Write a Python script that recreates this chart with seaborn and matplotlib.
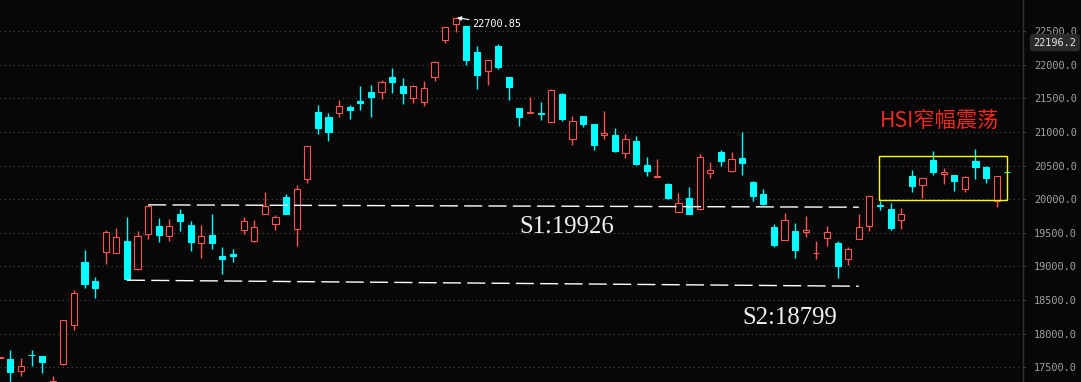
import numpy as np
import pandas as pd
import matplotlib
matplotlib.use('Agg')
import matplotlib.pyplot as plt
import seaborn as sns
from matplotlib.patches import Rectangle
from matplotlib.ticker import MultipleLocator, FormatStrFormatter

# HSI daily candles (day -1 is the one cut off at the left edge)
opens = [17645, 17623, 17449, 17687, 17667, 17200, 17553, 18133, 19065, 18783,
         19218, 19203, 19377, 18956, 19477, 19596, 19447, 19779, 19615, 19343,
         19467, 19154, 19188, 19536, 19373, 19783, 19635, 20032, 19560, 20304,
         21296, 21221, 21285, 21370, 21464, 21593, 21597, 21816, 21682, 21508,
         21449, 21812, 22371, 22609, 22574, 22188, 21910, 22277, 21816, 21355,
         21285, 21281, 21142, 21563, 20898, 21236, 21117, 20953, 20953, 20681,
         20864, 20507, 20335, 20225, 19813, 20017, 19849, 20384, 20701, 20423,
         20612, 20250, 20076, 19585, 19397, 19526, 19516, 19195, 19427, 19347,
         19114, 19412, 19605, 19912, 19849, 19685, 20344, 20205, 20582, 20369,
         20359, 20146, 20567, 20478, 19968, 20405]
closes = [17650, 17429, 17519, 17677, 17578, 17295, 18203, 18604, 18738, 18683,
          19507, 19432, 18812, 19447, 19893, 19471, 19596, 19679, 19367, 19447,
          19352, 19105, 19159, 19670, 19581, 19893, 19734, 19783, 20146, 20785,
          21058, 20998, 21380, 21325, 21429, 21519, 21742, 21742, 21583, 21678,
          21648, 22035, 22555, 22689, 22069, 21850, 22064, 21969, 21672, 21226,
          21296, 21270, 21618, 21191, 21157, 21122, 20809, 20983, 20720, 20894,
          20527, 20418, 20339, 20017, 19938, 19783, 20622, 20429, 20571, 20592,
          20542, 20051, 19927, 19318, 19685, 19248, 19541, 19199, 19507, 19010,
          19254, 19581, 20042, 19905, 19575, 19774, 20200, 20309, 20408, 20403,
          20274, 20324, 20482, 20319, 20339, 20400]
highs = [17655, 17757, 17637, 17757, 17667, 17370, 18210, 18649, 19243, 18842,
         19541, 19571, 19734, 19526, 19913, 19719, 19704, 19853, 19670, 19615,
         19779, 19288, 19258, 19734, 19690, 20106, 19764, 20076, 20210, 20790,
         21400, 21281, 21474, 21400, 21682, 21697, 21771, 21950, 21801, 21697,
         21757, 22054, 22560, 22700.85, 22580, 22277, 22070, 22307, 21820, 21360,
         21519, 21444, 21638, 21578, 21236, 21240, 21120, 21310, 21058, 20968,
         20939, 20626, 20597, 20244, 20091, 20180, 20671, 20552, 20730, 20701,
         20998, 20270, 20151, 19630, 19794, 19645, 19749, 19382, 19600, 19377,
         19288, 19783, 20045, 19972, 19942, 19868, 20433, 20312, 20716, 20468,
         20360, 20344, 20745, 20497, 20340, 20405]
lows = [17640, 17236, 17374, 17523, 17419, 17170, 17533, 18058, 18683, 18534,
        19040, 19200, 18797, 18950, 19412, 19367, 19382, 19530, 19233, 19129,
        19263, 18891, 19070, 19486, 19370, 19780, 19541, 19780, 19308, 20244,
        20973, 20869, 21226, 21191, 21325, 21221, 21484, 21583, 21414, 21434,
        21385, 21761, 22326, 22485, 22000, 21642, 21701, 21939, 21469, 21092,
        21276, 21181, 21140, 21166, 20805, 21072, 20730, 20898, 20701, 20616,
        20512, 20348, 20335, 20006, 19810, 19780, 19845, 20319, 20497, 20408,
        20363, 19977, 19913, 19288, 19395, 19125, 19441, 19110, 19308, 18832,
        19025, 19410, 19530, 19838, 19541, 19560, 20110, 20021, 20363, 20229,
        20125, 20110, 20304, 20244, 19887, 20400]
days = list(range(-1, 95))

# support lines (day, level)
s1_days = [13, 80]
s1_levels = [19915, 19880]
s2_days = [11, 80]
s2_levels = [18795, 18705]
s1_label = 'S1:19926'
s2_label = 'S2:18799'

peak_day = 42
peak_value = 22700.85
last_price = 22196.2

# consolidation box
box_days = [81.95, 94.0]
box_levels = [19987, 20637]

bg = '#070707'
red = '#ff5454'
cyan = '#00ffff'

sns.set_theme(style='dark', rc={'axes.facecolor': bg, 'figure.facecolor': bg,
                                'axes.grid': False})
plt.rcParams['font.family'] = ['Noto Sans CJK SC', 'DejaVu Sans']

df = pd.DataFrame({'day': days, 'open': opens, 'high': highs,
                   'low': lows, 'close': closes})
up = df['close'] >= df['open']

fig = plt.figure(figsize=(10.81, 3.82), dpi=100)
ax = fig.add_axes([0, 0, 1023 / 1081, 1])

# wicks then bodies (hollow red covers wick)
ax.vlines(df['day'], df['low'], df['high'],
          colors=np.where(up, red, cyan), lw=1.0, zorder=2)
body_h = np.maximum((df['close'] - df['open']).abs(), 1)
body_b = np.minimum(df['open'], df['close'])
ax.bar(df['day'], body_h, bottom=body_b, width=0.58,
       color=np.where(up, bg, cyan), edgecolor=np.where(up, red, cyan),
       linewidth=0.8, zorder=3)

# support lines
sns.lineplot(x=s1_days, y=s1_levels, ax=ax, color='white', lw=1.0,
             linestyle=(0, (13, 4.5)), zorder=4)
sns.lineplot(x=s2_days, y=s2_levels, ax=ax, color='white', lw=1.0,
             linestyle=(0, (13, 4.5)), zorder=4)

ax.text(52.5, 19590, s1_label, color='#f0f0f0', fontsize=17.8,
        family='Liberation Serif', ha='center', va='center')
ax.text(73.5, 18228, s2_label, color='#f0f0f0', fontsize=17.8,
        family='Liberation Serif', ha='center', va='center')

ax.add_patch(Rectangle((box_days[0], box_levels[0]), box_days[1] - box_days[0],
                       box_levels[1] - box_levels[0], fill=False,
                       edgecolor='#ffff00', lw=1.0, zorder=5))
ax.text(box_days[0], 21166, 'HSI窄幅震荡', color='#f02a1e', fontsize=15.3,
        ha='left', va='center')

ax.annotate(f'{peak_value:.2f}', xy=(peak_day, peak_value),
            xytext=(11.8, -4.7), textcoords='offset points',
            color='white', fontsize=7.4, family='DejaVu Sans Mono',
            ha='left', va='center',
            arrowprops=dict(arrowstyle='-|>', color='white', lw=0.8,
                            mutation_scale=6, shrinkA=0, shrinkB=1))

ax.set_xlim(-0.97, 95.48)
ax.set_ylim(17281, 22961)
ax.set_xticks([])
ax.yaxis.tick_right()
ax.yaxis.set_major_locator(MultipleLocator(500))
ax.yaxis.set_major_formatter(FormatStrFormatter('%.1f'))
ax.tick_params(axis='y', colors='#3a3a3a', labelcolor='#a0a0a0',
               labelsize=7.4, length=2.5, width=0.8, pad=5.5)
for lbl in ax.get_yticklabels():
    lbl.set_family('DejaVu Sans Mono')
ax.yaxis.grid(True, color='#4d4d4d', linestyle=(0, (1, 3)), lw=0.8)
ax.set_axisbelow(True)
for side in ['left', 'top', 'bottom']:
    ax.spines[side].set_visible(False)
ax.spines['right'].set_color('#333333')
ax.spines['right'].set_linewidth(1.0)
ax.set_xlabel('')
ax.set_ylabel('')

# current price tag on the axis
ax.annotate(f'{last_price:.1f}', xy=(1, last_price),
            xycoords=('axes fraction', 'data'), xytext=(7.5, 6.3),
            textcoords='offset points', ha='left', va='center',
            color='#e6e6e6', fontsize=7.4, family='DejaVu Sans Mono',
            annotation_clip=False, zorder=10,
            bbox=dict(boxstyle='round,pad=0.35', fc='#2b2b2b', ec='none'))

fig.savefig('out.png', dpi=100, facecolor=bg)
